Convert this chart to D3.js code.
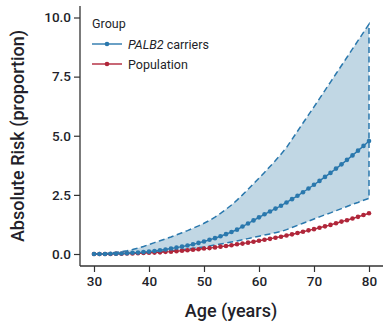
<!DOCTYPE html>
<html>
<head>
<meta charset="utf-8">
<script src="https://cdn.jsdelivr.net/npm/d3@7"></script>
<style>
  html, body { margin: 0; padding: 0; background: #fff; }
  svg { display: block; }
</style>
</head>
<body>
<svg id="chart" width="385" height="323"></svg>
<script>
// Ages 30..80 (one observation per year)
const ages = d3.range(30, 81);

// Estimated absolute risk for PALB2 carriers
const carrierRisk = [
  0.00, 0.00, 0.00, 0.01, 0.01, 0.02, 0.03, 0.05, 0.06, 0.08,
  0.10, 0.13, 0.16, 0.19, 0.23, 0.27, 0.31, 0.36, 0.41, 0.47,
  0.53, 0.60, 0.67, 0.75, 0.84, 0.93, 1.03, 1.16, 1.29, 1.42,
  1.55, 1.68, 1.80, 1.92, 2.04, 2.18, 2.32, 2.46, 2.61, 2.77,
  2.93, 3.09, 3.26, 3.43, 3.61, 3.79, 3.98, 4.17, 4.37, 4.57,
  4.78
];

// Upper and lower bounds of the carrier confidence band
const carrierUpper = [
  0.00, 0.01, 0.02, 0.04, 0.07, 0.10, 0.14, 0.19, 0.25, 0.32,
  0.40, 0.48, 0.56, 0.64, 0.72, 0.81, 0.90, 0.99, 1.09, 1.19,
  1.30, 1.42, 1.56, 1.72, 1.89, 2.07, 2.28, 2.50, 2.73, 2.97,
  3.21, 3.45, 3.70, 3.95, 4.22, 4.50, 4.85, 5.19, 5.54, 5.88,
  6.22, 6.57, 6.92, 7.27, 7.62, 7.97, 8.32, 8.67, 9.02, 9.37,
  9.72
];
const carrierLower = [
  0.00, 0.00, 0.00, 0.01, 0.01, 0.02, 0.03, 0.04, 0.05, 0.06,
  0.07, 0.09, 0.10, 0.12, 0.14, 0.16, 0.18, 0.21, 0.24, 0.27,
  0.30, 0.34, 0.38, 0.42, 0.46, 0.51, 0.55, 0.60, 0.65, 0.70,
  0.75, 0.80, 0.85, 0.90, 0.95, 1.03, 1.12, 1.21, 1.30, 1.39,
  1.48, 1.57, 1.66, 1.74, 1.83, 1.92, 2.01, 2.10, 2.18, 2.27,
  2.35
];

// General population risk
const populationRisk = [
  0.00, 0.00, 0.00, 0.00, 0.01, 0.01, 0.02, 0.02, 0.03, 0.04,
  0.05, 0.06, 0.07, 0.09, 0.10, 0.12, 0.14, 0.16, 0.18, 0.20,
  0.23, 0.25, 0.28, 0.31, 0.34, 0.37, 0.41, 0.44, 0.48, 0.52,
  0.56, 0.60, 0.64, 0.69, 0.73, 0.78, 0.83, 0.89, 0.94, 1.00,
  1.05, 1.11, 1.17, 1.23, 1.30, 1.37, 1.43, 1.50, 1.57, 1.65,
  1.72
];

const xTicks = [30, 40, 50, 60, 70, 80];
const yTicks = [0, 2.5, 5, 7.5, 10];

const blue = "#2a78ad";
const red = "#b0263a";
const bandFill = "#c1d7e4";
const ink = "#231f2a";
const font = "Roboto, 'Liberation Sans', Arial, sans-serif";

const svg = d3.select("#chart");

const x = d3.scaleLinear().domain([30, 80]).range([94, 369]);
const y = d3.scaleLinear().domain([0, 10]).range([254, 17.5]);

const carriers = ages.map((a, i) => ({ age: a, v: carrierRisk[i], lo: carrierLower[i], hi: carrierUpper[i] }));
const population = ages.map((a, i) => ({ age: a, v: populationRisk[i] }));

// Confidence band: filled area plus dashed outline
const band = d3.area().x(d => x(d.age)).y0(d => y(d.lo)).y1(d => y(d.hi));
svg.append("path").datum(carriers)
  .attr("d", band)
  .attr("fill", bandFill);

const bandOutline = carriers.map(d => [x(d.age), y(d.hi)])
  .concat(carriers.slice().reverse().map(d => [x(d.age), y(d.lo)]));
svg.append("path")
  .attr("d", d3.line()(bandOutline.slice(0, bandOutline.length)))
  .attr("fill", "none")
  .attr("stroke", blue)
  .attr("stroke-width", 1.5)
  .attr("stroke-dasharray", "6,3.5");

// Series lines and points
function drawSeries(data, color) {
  svg.append("path").datum(data)
    .attr("d", d3.line().x(d => x(d.age)).y(d => y(d.v)))
    .attr("fill", "none")
    .attr("stroke", color)
    .attr("stroke-width", 1.4);
  svg.append("g").selectAll("circle").data(data).join("circle")
    .attr("cx", d => x(d.age))
    .attr("cy", d => y(d.v))
    .attr("r", 2.3)
    .attr("fill", color);
}
drawSeries(population, red);
drawSeries(carriers, blue);

// Axes
const xAxis = svg.append("g")
  .attr("transform", "translate(0,266)")
  .call(d3.axisBottom(x).tickValues(xTicks).tickSize(6).tickPadding(4).tickFormat(d3.format("d")));
xAxis.select(".domain").attr("d", "M80,0H383");

const yAxis = svg.append("g")
  .attr("transform", "translate(80,0)")
  .call(d3.axisLeft(y).tickValues(yTicks).tickSize(6).tickPadding(3).tickFormat(d3.format(".1f")));
yAxis.select(".domain").attr("d", "M0,6V266");

svg.selectAll(".domain").attr("stroke", "#333").attr("stroke-width", 1.3);
svg.selectAll(".tick line").attr("stroke", "#333").attr("stroke-width", 1.2);
svg.selectAll(".tick text")
  .attr("fill", ink)
  .style("font-family", font)
  .style("font-size", "13.5px")
  .style("font-weight", "500");

// Axis titles
svg.append("text")
  .attr("x", 231).attr("y", 317)
  .attr("text-anchor", "middle")
  .attr("fill", ink)
  .style("font-family", font)
  .style("font-size", "18px")
  .style("font-weight", "500")
  .text("Age (years)");

svg.append("text")
  .attr("transform", "translate(24,136) rotate(-90)")
  .attr("text-anchor", "middle")
  .attr("fill", ink)
  .style("font-family", font)
  .style("font-size", "18px")
  .style("font-weight", "500")
  .text("Absolute Risk (proportion)");

// Legend
const legend = svg.append("g").attr("transform", "translate(92,0)");
legend.append("text")
  .attr("x", 0).attr("y", 28)
  .attr("fill", ink)
  .style("font-family", font)
  .style("font-size", "12.5px")
  .text("Group");

const legendItems = [
  { color: blue, y: 44, parts: [["PALB2", "italic"], [" carriers", "normal"]] },
  { color: red, y: 64, parts: [["Population", "normal"]] }
];
legendItems.forEach(item => {
  legend.append("line")
    .attr("x1", 0).attr("x2", 30)
    .attr("y1", item.y).attr("y2", item.y)
    .attr("stroke", item.color).attr("stroke-width", 1.4);
  legend.append("circle")
    .attr("cx", 15).attr("cy", item.y).attr("r", 2.3)
    .attr("fill", item.color);
  const t = legend.append("text")
    .attr("x", 36).attr("y", item.y + 4.5)
    .attr("fill", ink)
    .style("font-family", font)
    .style("font-size", "12.5px");
  item.parts.forEach(([s, style]) => {
    t.append("tspan").style("font-style", style).text(s);
  });
});
</script>
</body>
</html>
